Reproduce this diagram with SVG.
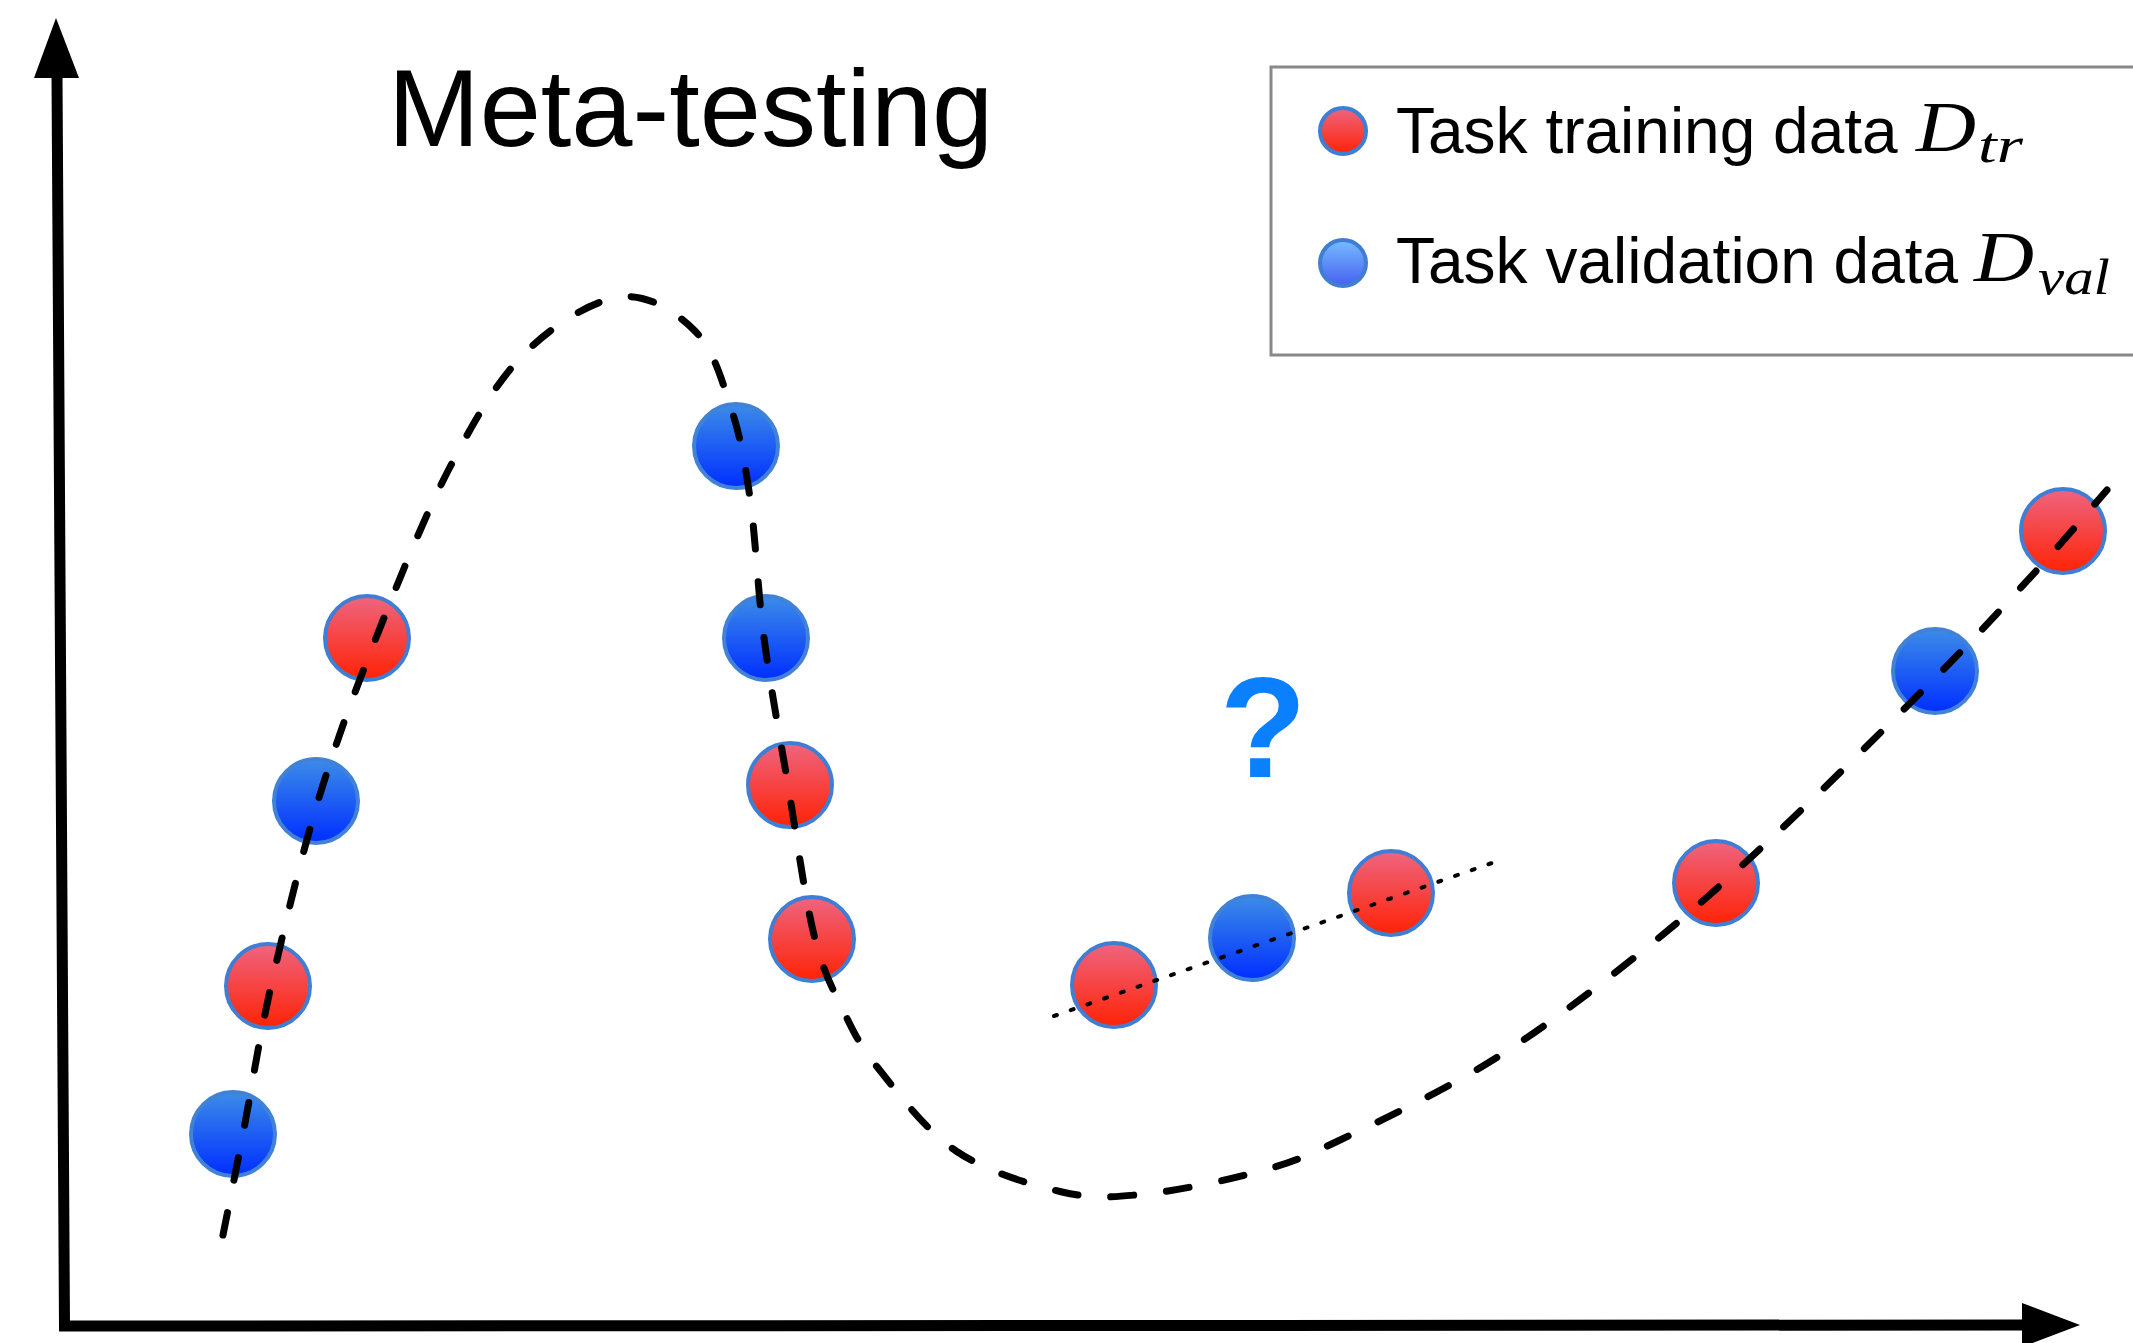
<svg xmlns="http://www.w3.org/2000/svg" width="2133" height="1343" viewBox="0 0 2133 1343">
<defs>
<linearGradient id="gRed" x1="0" y1="0" x2="0" y2="1">
<stop offset="0" stop-color="#EE6580"/>
<stop offset="1" stop-color="#FF2205"/>
</linearGradient>
<linearGradient id="gBlue" x1="0" y1="0" x2="0" y2="1">
<stop offset="0" stop-color="#3C8CE8"/>
<stop offset="1" stop-color="#002EFF"/>
</linearGradient>
<linearGradient id="gBlueL" x1="0" y1="0" x2="0" y2="1">
<stop offset="0" stop-color="#76BCFF"/>
<stop offset="1" stop-color="#4660F0"/>
</linearGradient>
<style>
.red{fill:url(#gRed);stroke:#3F7ED2;stroke-width:4}
.blue{fill:url(#gBlue);stroke:#4282D6;stroke-width:4}
.blueL{fill:url(#gBlueL);stroke:#3F7ED2;stroke-width:4}
.lbl{font-family:"Liberation Sans",Arial,Helvetica,sans-serif;fill:#000}
.math{font-family:"Liberation Serif","Times New Roman",serif;font-style:italic;fill:#000}
.curve{fill:none;stroke:#000;stroke-width:7;stroke-linecap:round;stroke-dasharray:23 33}
.dots{fill:none;stroke:#000;stroke-width:4;stroke-linecap:round;stroke-dasharray:3 14.7}
</style>
</defs>
<rect width="2133" height="1343" fill="#fff"/>
<g id="axes">
<polyline points="57,76 64.5,1326 2025,1325" fill="none" stroke="#000" stroke-width="11"/>
<polygon points="56,18 79,78 34,78" fill="#000"/>
<polygon points="2080,1325 2022,1303 2022,1347" fill="#000"/>
</g>
<g id="title">
<text class="lbl" x="388" y="146" font-size="110">Meta-testing</text>
</g>
<g id="legend">
<rect x="1271" y="67" width="900" height="288" fill="#fff" stroke="#888" stroke-width="3"/>
<circle class="red" cx="1343" cy="131" r="23"/>
<text class="lbl" x="1396" y="153" font-size="64">Task training data</text>
<text class="math" x="1916" y="151" font-size="72" textLength="60" lengthAdjust="spacingAndGlyphs">D</text>
<text class="math" x="1978" y="162" font-size="50" textLength="45" lengthAdjust="spacingAndGlyphs">tr</text>
<circle class="blueL" cx="1343" cy="263" r="23"/>
<text class="lbl" x="1396" y="283" font-size="64">Task validation data</text>
<text class="math" x="1974" y="281" font-size="72" textLength="60" lengthAdjust="spacingAndGlyphs">D</text>
<text class="math" x="2038" y="294" font-size="50" textLength="72" lengthAdjust="spacingAndGlyphs">val</text>
</g>
<g id="question">
<text x="1263" y="777" font-size="142" font-weight="bold" text-anchor="middle" font-family="Liberation Sans,Arial,sans-serif" fill="#0A80FF">?</text>
</g>
<g id="points">
<circle id="p1" class="blue" cx="233" cy="1134" r="42"/>
<circle id="p2" class="red" cx="268" cy="986" r="42"/>
<circle id="p3" class="blue" cx="316" cy="801" r="42"/>
<circle id="p4" class="red" cx="367" cy="638" r="42"/>
<circle id="p5" class="blue" cx="736" cy="446" r="42"/>
<circle id="p6" class="blue" cx="766" cy="638" r="42"/>
<circle id="p7" class="red" cx="790" cy="785" r="42"/>
<circle id="p8" class="red" cx="812" cy="939" r="42"/>
<circle id="p9" class="red" cx="1114" cy="985" r="42"/>
<circle id="p10" class="blue" cx="1252" cy="938" r="42"/>
<circle id="p11" class="red" cx="1391" cy="893" r="42"/>
<circle id="p12" class="red" cx="1716" cy="883" r="42"/>
<circle id="p13" class="blue" cx="1935" cy="671" r="42"/>
<circle id="p14" class="red" cx="2063" cy="531" r="42"/>
</g>
<g id="connectors">
<path class="curve" d="M223,1235 C226.3,1218.2 235,1175.5 243,1134 C251,1092.5 258.5,1041.5 271,986 C283.5,930.5 300.5,859 318,801 C335.5,743 354,693.7 376,638 C398,582.3 425.2,514.5 450,467 C474.8,419.5 496.7,381.3 525,353 C553.3,324.7 591.7,300.7 620,297 C648.3,293.3 676.5,312.5 695,331 C713.5,349.5 721.8,380.2 731,408 C740.2,435.8 744.5,459.7 750,498 C755.5,536.3 757.7,590.2 764,638 C770.3,685.8 779.7,735.5 788,785 C796.3,834.5 804.8,897.5 814,935 C823.2,972.5 832.3,987.8 843,1010 C853.7,1032.2 859.2,1044.5 878,1068 C896.8,1091.5 925.3,1130.3 956,1151 C986.7,1171.7 1030.5,1184.8 1062,1192 C1093.5,1199.2 1112.5,1197.3 1145,1194 C1177.5,1190.7 1224.8,1180.8 1257,1172 C1289.2,1163.2 1298.2,1160 1338,1141 C1377.8,1122 1444,1090.7 1496,1058 C1548,1025.3 1603.2,982.5 1650,945 C1696.8,907.5 1729,878 1777,833 C1825,788 1894.7,718.8 1938,675 C1981.3,631.2 2008.8,600.8 2037,570 C2065.2,539.2 2095.3,503.3 2107,490"/>
<path class="dots" d="M1054,1016 L1492,863"/>
</g>
</svg>
